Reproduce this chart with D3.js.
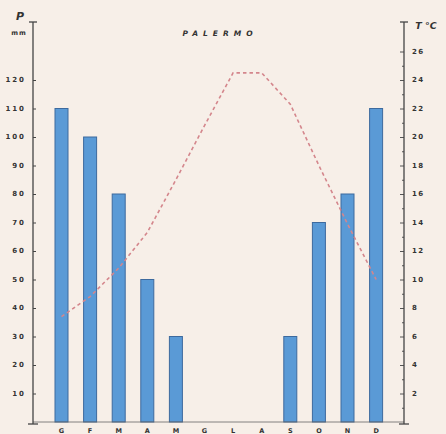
<!DOCTYPE html>
<html>
<head>
<meta charset="utf-8">
<script src="https://cdn.jsdelivr.net/npm/d3@7"></script>
<style>
  body { margin: 0; background: #f7efe8; }
  svg { display: block; }
  text { font-family: "DejaVu Sans", sans-serif; fill: #333; }
</style>
</head>
<body>
<script>
// Palermo climate chart: rainfall bars (mm) and mean temperature (°C)
var months = ["G", "F", "M", "A", "M", "G", "L", "A", "S", "O", "N", "D"];
var rain = [110, 100, 80, 50, 30, 0, 0, 0, 30, 70, 80, 110];
var temp = [7.4, 8.8, 10.8, 13.3, 17, 20.8, 24.5, 24.5, 22.3, 18, 13.9, 10];
var rainTicks = [10, 20, 30, 40, 50, 60, 70, 80, 90, 100, 110, 120];
var tempTicks = [2, 4, 6, 8, 10, 12, 14, 16, 18, 20, 22, 24, 26];

var width = 446, height = 434;
var x0 = 33, x1 = 404, yBase = 422, yTop = 22;

var svg = d3.select("body").append("svg")
    .attr("width", width)
    .attr("height", height);

var x = d3.scalePoint()
    .domain(d3.range(12))
    .range([47.2, 390.4])
    .padding(0.5);

var yP = d3.scaleLinear().domain([0, 120]).range([yBase, yBase - 12 * 28.5]);
var yT = d3.scaleLinear().domain([0, 24]).range([yBase, yBase - 12 * 28.5]);

var bars = rain.map(function(v, i) { return {i: i, v: v}; })
    .filter(function(d) { return d.v > 0; });

// bars
svg.append("g").selectAll("rect")
    .data(bars)
  .enter().append("rect")
    .attr("x", function(d) { return x(d.i) - 6.5; })
    .attr("y", function(d) { return yP(d.v); })
    .attr("width", 13)
    .attr("height", function(d) { return yBase - yP(d.v); })
    .attr("fill", "#5a9ad6")
    .attr("stroke", "#3d6a9e")
    .attr("stroke-width", 1);

// baseline
svg.append("line")
    .attr("x1", x0).attr("x2", x1)
    .attr("y1", yBase).attr("y2", yBase)
    .attr("stroke", "#666").attr("stroke-width", 0.8);

// temperature line
var line = d3.line()
    .x(function(d, i) { return x(i); })
    .y(function(d) { return yT(d); });

svg.append("path")
    .datum(temp)
    .attr("d", line)
    .attr("fill", "none")
    .attr("stroke", "#d4868c")
    .attr("stroke-width", 1.6)
    .attr("stroke-dasharray", "3.5,3");

// left axis
var left = svg.append("g").attr("transform", "translate(" + x0 + ",0)")
    .call(d3.axisRight(yP).tickValues(rainTicks).tickSize(3).tickFormat(""));
left.select(".domain").remove();
left.selectAll("line").attr("stroke", "#444");
left.append("line").attr("y1", yTop).attr("y2", yBase + 2).attr("stroke", "#444").attr("stroke-width", 1.3);
left.append("line").attr("x1", -4).attr("x2", 4).attr("y1", yTop).attr("y2", yTop).attr("stroke", "#444").attr("stroke-width", 1.3);
left.append("line").attr("x1", -5).attr("x2", 5).attr("y1", yBase + 2).attr("y2", yBase + 2).attr("stroke", "#444").attr("stroke-width", 1.3);

svg.append("g").selectAll("text")
    .data(rainTicks)
  .enter().append("text")
    .attr("x", 26)
    .attr("y", function(d) { return yP(d); })
    .attr("dy", "0.35em")
    .attr("text-anchor", "end")
    .attr("font-size", 7)
    .attr("font-weight", "bold")
    .attr("letter-spacing", 2)
    .text(function(d) { return d; });

// right axis
var right = svg.append("g").attr("transform", "translate(" + x1 + ",0)")
    .call(d3.axisLeft(yT).tickValues(d3.range(1, 27)).tickSize(2).tickFormat(""));
right.select(".domain").remove();
right.selectAll(".tick line").attr("stroke", "#555")
    .attr("x2", function(d) { return d % 2 ? -2 : -4; });
right.append("line").attr("y1", yTop).attr("y2", yBase + 2).attr("stroke", "#444").attr("stroke-width", 1.3);
right.append("line").attr("x1", -4).attr("x2", 4).attr("y1", yTop).attr("y2", yTop).attr("stroke", "#444").attr("stroke-width", 1.3);
right.append("line").attr("x1", -5).attr("x2", 5).attr("y1", yBase + 2).attr("y2", yBase + 2).attr("stroke", "#444").attr("stroke-width", 1.3);

svg.append("g").selectAll("text")
    .data(tempTicks)
  .enter().append("text")
    .attr("x", 412)
    .attr("y", function(d) { return yT(d); })
    .attr("dy", "0.35em")
    .attr("font-size", 7)
    .attr("font-weight", "bold")
    .attr("letter-spacing", 1.5)
    .text(function(d) { return d; });

// month labels (sit at the very bottom edge, as in the reference)
svg.append("g").selectAll("text")
    .data(months)
  .enter().append("text")
    .attr("x", function(d, i) { return x(i); })
    .attr("y", 433)
    .attr("text-anchor", "middle")
    .attr("font-size", 6.5)
    .attr("font-weight", "bold")
    .text(function(d) { return d; });

// titles
svg.append("text").attr("x", 220).attr("y", 36)
    .attr("text-anchor", "middle")
    .attr("font-size", 7.5).attr("font-weight", "bold").attr("font-style", "italic")
    .attr("letter-spacing", 5)
    .text("PALERMO");

svg.append("text").attr("x", 20).attr("y", 20)
    .attr("text-anchor", "middle")
    .attr("font-family", "DejaVu Serif")
    .attr("font-size", 11).attr("font-weight", "bold").attr("font-style", "italic")
    .text("P");
svg.append("text").attr("x", 19).attr("y", 35)
    .attr("text-anchor", "middle")
    .attr("font-size", 6.5).attr("font-weight", "bold")
    .attr("letter-spacing", 1)
    .text("mm");

svg.append("text").attr("x", 426).attr("y", 29)
    .attr("text-anchor", "middle")
    .attr("font-family", "DejaVu Serif")
    .attr("font-size", 9.5).attr("font-weight", "bold").attr("font-style", "italic")
    .text("T °C");
</script>
</body>
</html>
